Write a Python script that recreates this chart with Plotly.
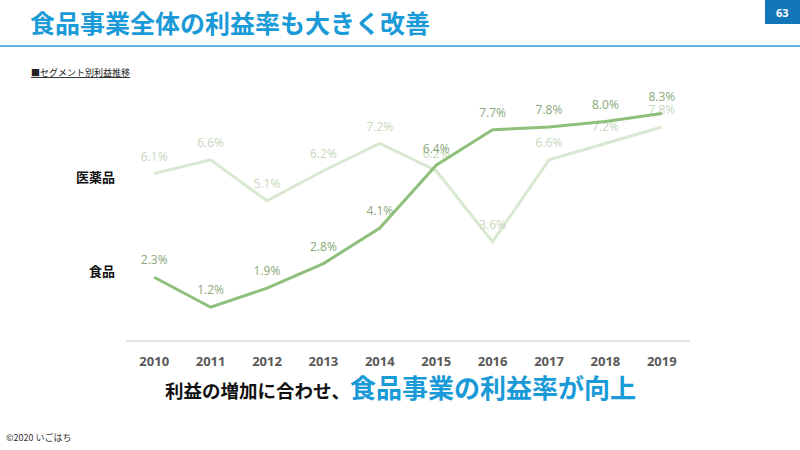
import plotly.graph_objects as go

years = ["2010", "2011", "2012", "2013", "2014", "2015", "2016", "2017", "2018", "2019"]
food = [2.3, 1.2, 1.9, 2.8, 4.1, 6.4, 7.7, 7.8, 8.0, 8.3]
pharma = [6.1, 6.6, 5.1, 6.2, 7.2, 6.2, 3.6, 6.6, 7.2, 7.8]
food_name = "食品"
pharma_name = "医薬品"

JP = "Noto Sans CJK JP"
LAT = "Open Sans, Noto Sans CJK JP"

W, H, L, R, T, B = 800, 450, 126, 110, 67, 110
pw, ph = W - L - R, H - T - B
def px(x): return (x - L) / pw
def py(y): return (H - B - y) / ph

fig = go.Figure()
fig.add_trace(go.Scatter(
    x=years, y=pharma, mode="lines+markers+text", name=pharma_name,
    line=dict(color="#d9e8d1", width=3),
    marker=dict(size=14, color="rgba(0,0,0,0)"),
    text=[f"{v:.1f}%" for v in pharma], textposition="top center",
    textfont=dict(family=LAT, size=12, color="#c6d8bd"),
    cliponaxis=False,
))
fig.add_trace(go.Scatter(
    x=years, y=food, mode="lines+markers+text", name=food_name,
    line=dict(color="#8fc07b", width=3),
    marker=dict(size=14, color="rgba(0,0,0,0)"),
    text=[f"{v:.1f}%" for v in food], textposition="top center",
    textfont=dict(family=LAT, size=12, color="#8aa878"),
    cliponaxis=False,
))

fig.update_layout(
    width=W, height=H,
    margin=dict(l=L, r=R, t=T, b=B),
    paper_bgcolor="white", plot_bgcolor="white",
    showlegend=False,
    xaxis=dict(
        type="category", showgrid=False, showline=True, linecolor="#e3e3e3", linewidth=2,
        ticks="", tickfont=dict(family=LAT, size=13, color="#595959"),
        tickprefix="<b>", ticksuffix="</b>", ticklabelstandoff=8,
        range=[-0.5, 9.5], zeroline=False,
    ),
    yaxis=dict(range=[0, 10], showgrid=False, showticklabels=False, zeroline=False, showline=False),
)

fig.add_annotation(xref="paper", yref="paper", x=px(28), y=py(22), xanchor="left", yanchor="middle",
                   text="<b>食品事業全体の利益率も大きく改善</b>", showarrow=False,
                   font=dict(family=JP, size=25, color="#1a9ad7"))
fig.add_shape(type="line", xref="paper", yref="paper", x0=px(0), x1=px(800), y0=py(46), y1=py(46),
              line=dict(color="#5fb3dd", width=2))
fig.add_shape(type="rect", xref="paper", yref="paper", x0=px(765), x1=px(800), y0=py(0), y1=py(24),
              line=dict(width=0), fillcolor="#1177b9")
fig.add_annotation(xref="paper", yref="paper", x=px(782), y=py(12), xanchor="center", yanchor="middle",
                   text="<b>63</b>", showarrow=False, font=dict(family=LAT, size=11, color="white"))
fig.add_annotation(xref="paper", yref="paper", x=px(29), y=py(72), xanchor="left", yanchor="middle",
                   text="<u>■セグメント別利益推移</u>", showarrow=False,
                   font=dict(family=JP, size=9, color="#222222"))
fig.add_annotation(xref="paper", yref="paper", x=px(117), y=py(176), xanchor="right", yanchor="middle",
                   text="<b>" + pharma_name + "</b>", showarrow=False,
                   font=dict(family=JP, size=13, color="#111111"))
fig.add_annotation(xref="paper", yref="paper", x=px(117), y=py(270), xanchor="right", yanchor="middle",
                   text="<b>" + food_name + "</b>", showarrow=False,
                   font=dict(family=JP, size=13, color="#111111"))
fig.add_annotation(xref="paper", yref="paper", x=px(400), y=py(386), xanchor="center", yanchor="middle",
                   text="<b><span style='font-size:18.5px;color:#111111'>利益の増加に合わせ、</span>"
                        "<span style='font-size:26px;color:#1a9ad7'>食品事業の利益率が向上</span></b>",
                   showarrow=False, font=dict(family=JP, size=26, color="#1a9ad7"))
fig.add_annotation(xref="paper", yref="paper", x=px(4), y=py(437), xanchor="left", yanchor="middle",
                   text="©2020 いごはち", showarrow=False,
                   font=dict(family=JP, size=9, color="#333333"))

fig.write_html("out.html", config={"displayModeBar": False})

with open("out.html", "r", encoding="utf-8") as f:
    html = f.read()
html = html.replace("<head>", "<head><style>html,body{margin:0;padding:0;overflow:hidden;}</style>", 1)
with open("out.html", "w", encoding="utf-8") as f:
    f.write(html)
